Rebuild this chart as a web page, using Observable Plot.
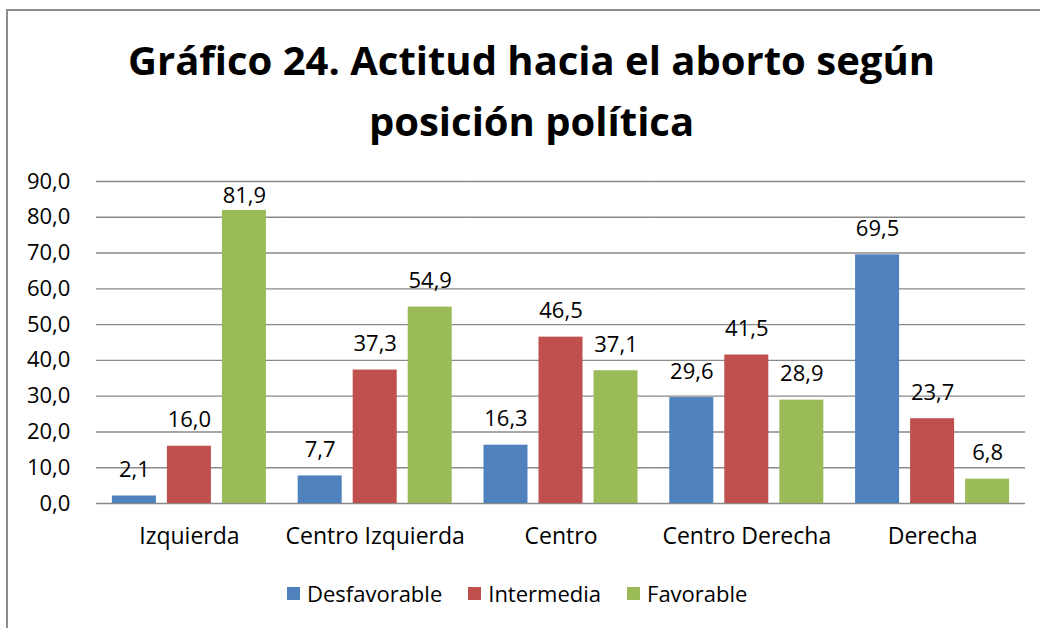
<!DOCTYPE html>
<html>
<head>
<meta charset="utf-8">
<script src="https://cdn.jsdelivr.net/npm/d3@7"></script>
<script src="https://cdn.jsdelivr.net/npm/@observablehq/plot@0.6"></script>
<style>
  html, body { margin: 0; padding: 0; background: #fff; }
  #wrap { position: relative; width: 1040px; height: 628px; overflow: hidden; background: #fff; font-family: "Open Sans", sans-serif; }
  #border { position: absolute; left: 6px; top: 9px; width: 1100px; height: 700px; border: 2px solid #8c8c8c; box-sizing: border-box; }
  #title { position: absolute; left: 0; top: 29px; width: 1063px; text-align: center; font-weight: 700; font-size: 40px; line-height: 61px; color: #000; }
  #chart { position: absolute; left: 0; top: 165px; }
  #legend { position: absolute; left: 287px; top: 578px; display: flex; align-items: center; font-size: 22px; color: #000; height: 30px; }
  .item { display: flex; align-items: center; margin-right: 26px; }
  .sw { width: 13px; height: 13px; margin-right: 7px; }
</style>
</head>
<body>
<div id="wrap">
  <div id="border"></div>
  <div id="title">Gráfico 24. Actitud hacia el aborto según<br>posición política</div>
  <div id="chart"></div>
  <div id="legend"></div>
</div>
<script>
const categories = ["Izquierda", "Centro Izquierda", "Centro", "Centro Derecha", "Derecha"];
const series = ["Desfavorable", "Intermedia", "Favorable"];
const desfavorable = [2.1, 7.7, 16.3, 29.6, 69.5];
const intermedia = [16.0, 37.3, 46.5, 41.5, 23.7];
const favorable = [81.9, 54.9, 37.1, 28.9, 6.8];
const colors = ["#4F81BD", "#C0504D", "#9BBB59"];
const yTicks = [0, 10, 20, 30, 40, 50, 60, 70, 80, 90];

const seriesValues = [desfavorable, intermedia, favorable];
const rows = categories.flatMap((c, i) => series.map((s, j) => ({category: c, series: s, value: seriesValues[j][i]})));
const fmt = d => d.toFixed(1).replace(".", ",");
// labels that would overflow the top of the plot area are kept inside it (as the spreadsheet does)
const fits = d => d.value <= 79;

const chart = Plot.plot({
  width: 1040,
  height: 389,
  marginLeft: 96,
  marginRight: 15,
  marginTop: 16,
  marginBottom: 51,
  style: {fontFamily: "Open Sans", fontSize: "22px", color: "#000", background: "transparent", overflow: "visible"},
  facet: {data: rows, x: "category"},
  fx: {domain: categories, paddingInner: 0.171, paddingOuter: 0.0855, round: false, label: null, tickSize: 0, tickPadding: 24, axis: "bottom"},
  x: {domain: series, paddingInner: 0.2, paddingOuter: 0, round: false, axis: null},
  y: {domain: [0, 90], ticks: yTicks, tickFormat: fmt, tickSize: 0, tickPadding: 42, label: null},
  color: {domain: series, range: colors},
  marks: [
    Plot.ruleY(yTicks, {stroke: "#8a8a8a", strokeWidth: 1.4, insetLeft: -16, insetRight: -16}),
    Plot.barY(rows, {x: "series", y: "value", fill: "series"}),
    Plot.text(rows, {filter: fits, x: "series", y: "value", text: d => fmt(d.value), lineAnchor: "bottom", dy: -19, fill: "#000", fontSize: 22}),
    Plot.text(rows, {filter: d => !fits(d), x: "series", frameAnchor: "top", text: d => fmt(d.value), lineAnchor: "top", dy: 6, fill: "#000", fontSize: 22})
  ]
});
chart.querySelectorAll("g[aria-label='fx-axis tick label'] text, g[aria-label='fx-axis'] text").forEach(t => t.setAttribute("font-size", "23"));
document.getElementById("chart").appendChild(chart);

const legend = document.getElementById("legend");
series.forEach((s, i) => {
  const it = document.createElement("div");
  it.className = "item";
  const sw = document.createElement("div");
  sw.className = "sw";
  sw.style.background = colors[i];
  const lb = document.createElement("span");
  lb.textContent = s;
  it.appendChild(sw);
  it.appendChild(lb);
  legend.appendChild(it);
});
</script>
</body>
</html>
